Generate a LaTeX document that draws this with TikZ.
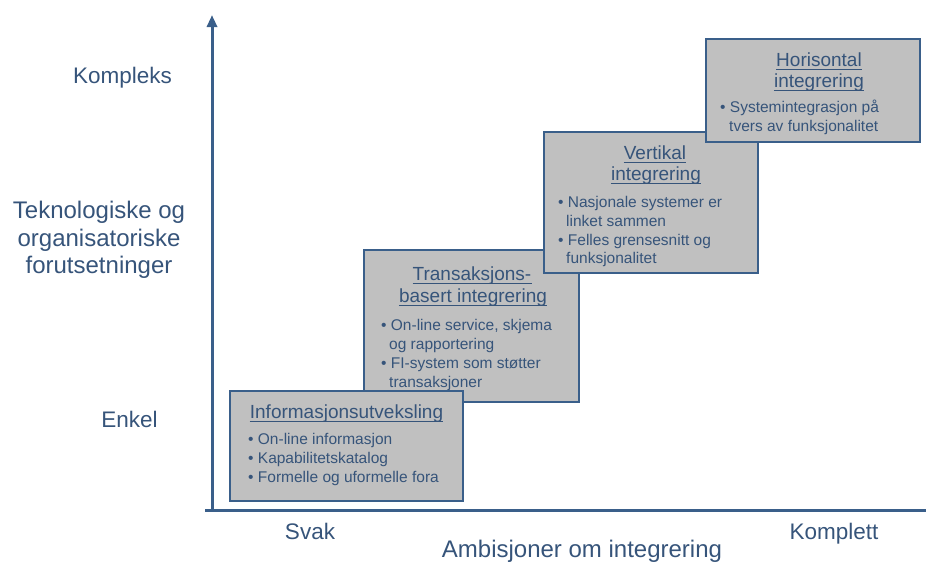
\documentclass[tikz,border=0pt]{standalone}
\usepackage{fontspec}
\setmainfont{Liberation Sans}
\usetikzlibrary{arrows.meta}
\definecolor{axis}{HTML}{3A5F8A}
\definecolor{txt}{HTML}{36547A}
\definecolor{boxfill}{HTML}{C0C0C0}
\begin{document}
\begin{tikzpicture}[x=1pt,y=-1pt,
  box/.style={draw=axis, fill=boxfill, line width=2pt, inner sep=0pt, outer sep=0pt, anchor=north west},
  ttl/.style={inner sep=0pt, text=txt, font=\fontsize{19}{22}\selectfont, anchor=base},
  itm/.style={inner sep=0pt, text=txt, font=\fontsize{15.5}{18}\selectfont, anchor=base west},
  axl/.style={inner sep=0pt, text=txt, font=\fontsize{22.5}{27}\selectfont, anchor=base},
  axb/.style={inner sep=0pt, text=txt, font=\fontsize{24}{28}\selectfont, anchor=base},
  ul/.style={txt, line width=1pt},
  axisline/.style={axis, line width=3pt}]
\useasboundingbox (0,0) rectangle (926,562);

% axes
\coordinate (org) at (212,511);
\coordinate (ytop) at (212,15);
\coordinate (xstart) at (205,510.5);
\coordinate (xend) at (926,510.5);
\draw[axisline, -{Triangle[width=10pt,length=12pt]}] (org) -- (ytop);
\draw[axisline] (xstart) -- (xend);

% axis labels
\node[axl] (kompleks) at (122.5,83) {Kompleks};
\node[axb] (tek1) at (99,218) {Teknologiske og};
\node[axb] (tek2) at (99,246) {organisatoriske};
\node[axb] (tek3) at (99,273) {forutsetninger};
\node[axl] (enkel) at (129.5,427) {Enkel};
\node[axl] (svak) at (310,539) {Svak};
\node[axl] (komplett) at (834,539) {Komplett};
\node[axb] (ambis) at (582,557.5) {Ambisjoner om integrering};

% box 2
\node[box, minimum width=215pt, minimum height=152pt] (b2) at (364,250) {};
\node[ttl] (b2t1) at (472,280) {Transaksjons-};
\node[ttl] (b2t2) at (473,302) {basert integrering};
\draw[ul] ([yshift=-3pt]b2t1.base west) -- ([yshift=-3pt]b2t1.base east);
\draw[ul] ([yshift=-3pt]b2t2.base west) -- ([yshift=-3pt]b2t2.base east);
\node[itm] (b2i1) at (381,330) {• On-line service, skjema};
\node[itm] (b2i2) at (389,349) {og rapportering};
\node[itm] (b2i3) at (381,368) {• FI-system som støtter};
\node[itm] (b2i4) at (389,387) {transaksjoner};

% box 3
\node[box, minimum width=214pt, minimum height=141pt] (b3) at (544,132) {};
\node[ttl] (b3t1) at (655,159) {Vertikal};
\node[ttl] (b3t2) at (656,180) {integrering};
\draw[ul] ([yshift=-3pt]b3t1.base west) -- ([yshift=-3pt]b3t1.base east);
\draw[ul] ([yshift=-3pt]b3t2.base west) -- ([yshift=-3pt]b3t2.base east);
\node[itm] (b3i1) at (558,207) {• Nasjonale systemer er};
\node[itm] (b3i2) at (566,226) {linket sammen};
\node[itm] (b3i3) at (558,245) {• Felles grensesnitt og};
\node[itm] (b3i4) at (566,263) {funksjonalitet};

% box 4
\node[box, minimum width=214pt, minimum height=103pt] (b4) at (706,39) {};
\node[ttl] (b4t1) at (819,66) {Horisontal};
\node[ttl] (b4t2) at (819,87) {integrering};
\draw[ul] ([yshift=-3pt]b4t1.base west) -- ([yshift=-3pt]b4t1.base east);
\draw[ul] ([yshift=-3pt]b4t2.base west) -- ([yshift=-3pt]b4t2.base east);
\node[itm] (b4i1) at (720,112) {• Systemintegrasjon på};
\node[itm] (b4i2) at (729,131) {tvers av funksjonalitet};

% box 1
\node[box, minimum width=233pt, minimum height=110pt] (b1) at (230,391) {};
\node[ttl] (b1t1) at (346.5,418) {Informasjonsutveksling};
\draw[ul] ([yshift=-3pt]b1t1.base west) -- ([yshift=-3pt]b1t1.base east);
\node[itm] (b1i1) at (248,444) {• On-line informasjon};
\node[itm] (b1i2) at (248,463) {• Kapabilitetskatalog};
\node[itm] (b1i3) at (248,482) {• Formelle og uformelle fora};
\end{tikzpicture}
\end{document}
